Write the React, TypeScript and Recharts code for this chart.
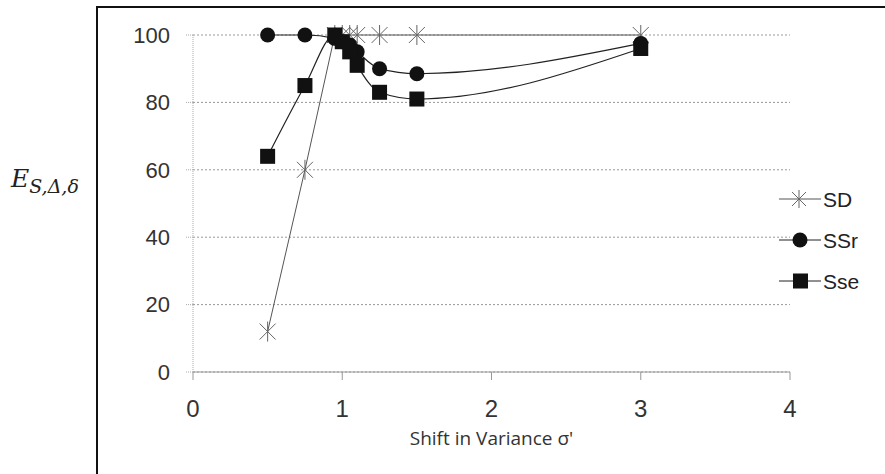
import React from 'react';
import { LineChart, Line, XAxis, YAxis, CartesianGrid, Legend } from 'recharts';

// shift in variance (x) values shared by all three series
const shifts = [0.5, 0.75, 0.95, 1, 1.05, 1.1, 1.25, 1.5, 3];
const sd = [12, 60, 100, 100, 100, 100, 100, 100, 100];
const ssr = [100, 100, 99, 98, 97, 95, 90, 88.5, 97.5];
const sse = [64, 85, 100, 98, 95, 91, 83, 81, 96];

const xTicks = [0, 1, 2, 3, 4];
const yTicks = [0, 20, 40, 60, 80, 100];

const seriesNames = ['SD', 'SSr', 'Sse'];

const data = shifts.map((x, i) => ({ x, SD: sd[i], SSr: ssr[i], Sse: sse[i] }));

const Star = ({ cx, cy, size = 8, color = '#666' }: any) => (
    <g stroke={color} strokeWidth={1}>
        <line x1={cx - size} y1={cy - size} x2={cx + size} y2={cy + size} />
        <line x1={cx - size} y1={cy + size} x2={cx + size} y2={cy - size} />
        <line x1={cx} y1={cy - size - 2} x2={cx} y2={cy + size + 2} />
    </g>
);

const starDot = (p: any) => <Star key={`sd-${p.index}`} cx={p.cx} cy={p.cy} />;
const circleDot = (p: any) => <circle key={`ssr-${p.index}`} cx={p.cx} cy={p.cy} r={7.5} fill="#111" />;
const squareDot = (p: any) => (
    <rect key={`sse-${p.index}`} x={p.cx - 7.5} y={p.cy - 7.5} width={15} height={15} fill="#111" />
);

const renderLegend = () => (
    <svg width={110} height={125}>
        {seriesNames.map((name, i) => {
            const cy = 19 + i * 41;
            return (
                <g key={name}>
                    <line x1={4} y1={cy} x2={46} y2={cy} stroke={i === 0 ? '#555' : '#222'} strokeWidth={1} />
                    {i === 0 && <Star cx={24} cy={cy} size={7} />}
                    {i === 1 && <circle cx={25} cy={cy} r={7.5} fill="#111" />}
                    {i === 2 && <rect x={18} y={cy - 7.5} width={15} height={15} fill="#111" />}
                    <text x={48} y={cy} dy="0.36em" fontSize={21} fill="#222" fontFamily="'Liberation Sans', Arial, sans-serif">
                        {name}
                    </text>
                </g>
            );
        })}
    </svg>
);

export default function App() {
    return (
        <div style={{ position: 'absolute', left: 0, top: 0, width: 885, height: 474, overflow: 'hidden', background: '#fff' }}>
            <div style={{ position: 'absolute', left: 96, top: 6, width: 900, height: 600, border: '2px solid #111' }} />
            <div style={{ position: 'absolute', left: 11, top: 164, fontFamily: "'DejaVu Serif', 'Liberation Serif', serif", fontStyle: 'italic', color: '#222', whiteSpace: 'nowrap' }}>
                <span style={{ fontSize: 25 }}>E</span>
                <span style={{ fontSize: 19, position: 'relative', top: 6 }}>S,Δ,δ</span>
            </div>
            <div style={{ position: 'absolute', left: 0, top: 0 }}>
                <LineChart width={885} height={474} data={data} margin={{ top: 35, right: 95, bottom: 52, left: 113 }}>
                    <CartesianGrid vertical={false} stroke="#999" strokeDasharray="2 2" />
                    <XAxis
                        dataKey="x"
                        type="number"
                        domain={[0, 4]}
                        ticks={xTicks}
                        height={50}
                        stroke="#999"
                        tickSize={8}
                        tickMargin={20}
                        tick={{ fontSize: 24, fill: '#333', fontFamily: "'Liberation Sans', Arial, sans-serif" }}
                        label={{ value: "Shift in Variance σ'", position: 'bottom', offset: 10, fontSize: 19, fill: '#333', fontFamily: "'Open Sans', sans-serif" }}
                    />
                    <YAxis
                        type="number"
                        domain={[0, 100]}
                        ticks={yTicks}
                        width={80}
                        axisLine={{ stroke: '#aaa', strokeDasharray: '1 1' }}
                        tickLine={{ stroke: '#aaa', strokeDasharray: '1 1' }}
                        tickSize={7}
                        tickMargin={16}
                        tick={{ fontSize: 22, fill: '#333', fontFamily: "'Liberation Sans', Arial, sans-serif" }}
                    />
                    <Legend
                        layout="vertical"
                        align="center"
                        verticalAlign="middle"
                        content={renderLegend}
                        wrapperStyle={{ left: 775, top: 180, width: 110 }}
                    />
                    <Line dataKey="SD" type="linear" stroke="#555" strokeWidth={1} dot={starDot} isAnimationActive={false} />
                    <Line dataKey="SSr" type="monotone" stroke="#222" strokeWidth={1.2} dot={circleDot} isAnimationActive={false} />
                    <Line dataKey="Sse" type="monotone" stroke="#222" strokeWidth={1.2} dot={squareDot} isAnimationActive={false} />
                </LineChart>
            </div>
        </div>
    );
}
